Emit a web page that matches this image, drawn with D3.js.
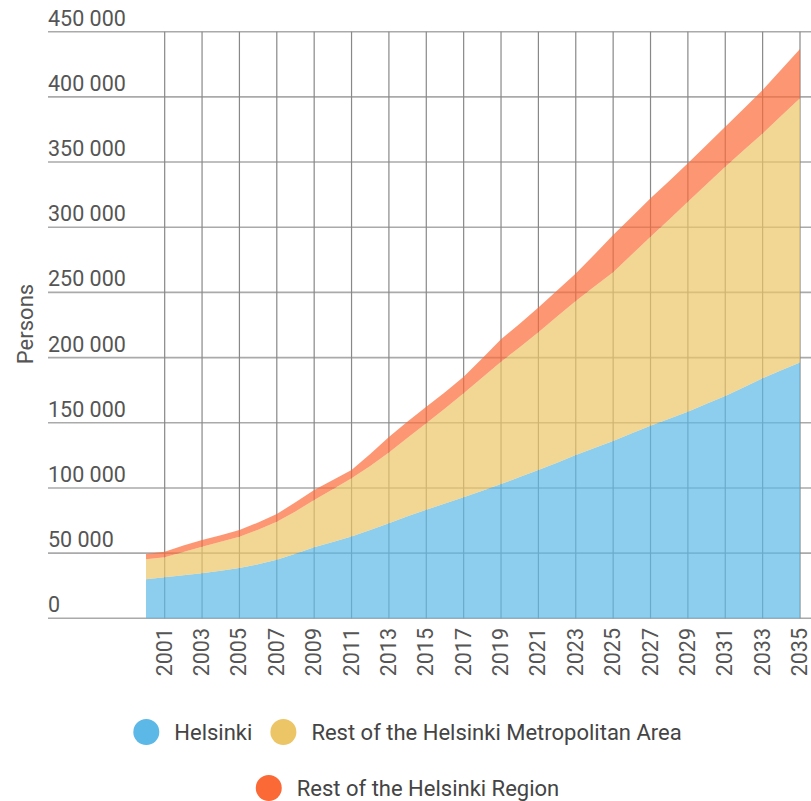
<!DOCTYPE html>
<html lang="en">
<head>
<meta charset="UTF-8">
<title>Helsinki region population growth</title>
<style>
  body { margin: 0; background: #fff; }
  text { font-family: Roboto, 'Open Sans', sans-serif; }
  .tick-label { font-size: 21.5px; fill: #555; }
  .legend-label { font-size: 22px; fill: #444; }
</style>
</head>
<body>
<div id="vis"></div>
<script src="https://d3js.org/d3.v7.min.js"></script>
<script>
const width = 811;
const height = 801;

// data (persons, per layer)
const years = d3.range(2000, 2036);
const helsinki = [29900, 31400, 33000, 34600, 36400, 38600, 41400, 44900, 49600, 54500,
  58500, 62800, 67800, 73000, 78200, 83200, 88000, 92800, 97800, 103000,
  108400, 113800, 119400, 125300, 130700, 136000, 142000, 147800, 153000, 158500,
  164500, 170500, 177300, 184100, 190200, 196300];
const restMetro = [15400, 15400, 17800, 20300, 22300, 24000, 26600, 29200, 32400, 36200,
  40500, 44600, 49000, 54200, 60300, 66400, 73000, 79800, 86900, 93800,
  99600, 105700, 112100, 118200, 123800, 129500, 137000, 144900, 153000, 161100,
  168500, 175900, 181900, 187900, 195300, 202600];
const restRegion = [4000, 4300, 5000, 5200, 5100, 5100, 5500, 5900, 7000, 7700,
  7000, 6300, 9200, 11800, 12500, 12700, 12500, 12700, 14800, 17200,
  18000, 19000, 20000, 21100, 24500, 28500, 29000, 29500, 29500, 29400,
  30000, 30700, 31800, 33300, 35500, 37800];

const seriesNames = ["Helsinki", "Rest of the Helsinki Metropolitan Area", "Rest of the Helsinki Region"];
const seriesColors = ["#5cb8e6", "#ecc666", "#fb6937"];
const yTicks = [0, 50000, 100000, 150000, 200000, 250000, 300000, 350000, 400000, 450000];
const xTicks = d3.range(2001, 2036, 2);

const rows = years.map(function(y, i) {
  return { year: y, a: helsinki[i], b: restMetro[i], c: restRegion[i] };
});

let svg = d3.select("#vis").append("svg")
    .attr("width", width)
    .attr("height", height);

let xScale = d3.scaleLinear().domain([2000, 2035]).range([146, 800]);
let yScale = d3.scaleLinear().domain([0, 450000]).range([618.3, 31.7]);

// horizontal grid + labels
let yg = svg.append("g");
yg.selectAll("line").data(yTicks).enter().append("line")
    .attr("x1", 48).attr("x2", width)
    .attr("y1", function(d) { return yScale(d); })
    .attr("y2", function(d) { return yScale(d); })
    .attr("stroke", "#aaa")
    .attr("stroke-width", 1.6);
yg.selectAll("text").data(yTicks).enter().append("text")
    .attr("class", "tick-label")
    .attr("x", 48)
    .attr("y", function(d) { return yScale(d) - 6; })
    .text(function(d) { return d3.format(",")(d).replace(/,/g, " "); });

// vertical grid
svg.append("g").selectAll("line").data(xTicks).enter().append("line")
    .attr("x1", function(d) { return xScale(d); })
    .attr("x2", function(d) { return xScale(d); })
    .attr("y1", yScale(450000))
    .attr("y2", yScale(0))
    .attr("stroke", "#888")
    .attr("stroke-width", 1.2);

// x labels
svg.append("g").selectAll("text").data(xTicks).enter().append("text")
    .attr("class", "tick-label")
    .attr("text-anchor", "end")
    .attr("transform", function(d) {
      return "translate(" + (xScale(d) + 7) + "," + 628 + ") rotate(-90)";
    })
    .text(function(d) { return d; });

// stacked areas
const stack = d3.stack().keys(["a", "b", "c"]);
const layers = stack(rows);
const area = d3.area()
    .x(function(d) { return xScale(d.data.year); })
    .y0(function(d) { return yScale(d[0]); })
    .y1(function(d) { return yScale(d[1]); });

svg.append("g").selectAll("path").data(layers).enter().append("path")
    .attr("d", area)
    .attr("fill", function(d, i) { return seriesColors[i]; })
    .attr("fill-opacity", 0.7);

// y axis title
svg.append("text")
    .attr("transform", "translate(33,324) rotate(-90)")
    .attr("text-anchor", "middle")
    .style("font-size", "22px")
    .style("fill", "#555")
    .text("Persons");

// legend
const legendRows = [[0, 1], [2]];
const legendY = [732, 788];
legendRows.forEach(function(items, r) {
  let g = svg.append("g");
  let x = 0;
  items.forEach(function(idx) {
    g.append("circle")
      .attr("cx", x + 13).attr("cy", legendY[r]).attr("r", 13)
      .attr("fill", seriesColors[idx]);
    let t = g.append("text")
      .attr("class", "legend-label")
      .attr("x", x + 41)
      .attr("y", legendY[r] + 8)
      .text(seriesNames[idx]);
    x += 41 + t.node().getComputedTextLength() + 18;
  });
  let total = x - 18;
  g.attr("transform", "translate(" + ((width - total) / 2 + 2) + ",0)");
});
</script>
</body>
</html>
